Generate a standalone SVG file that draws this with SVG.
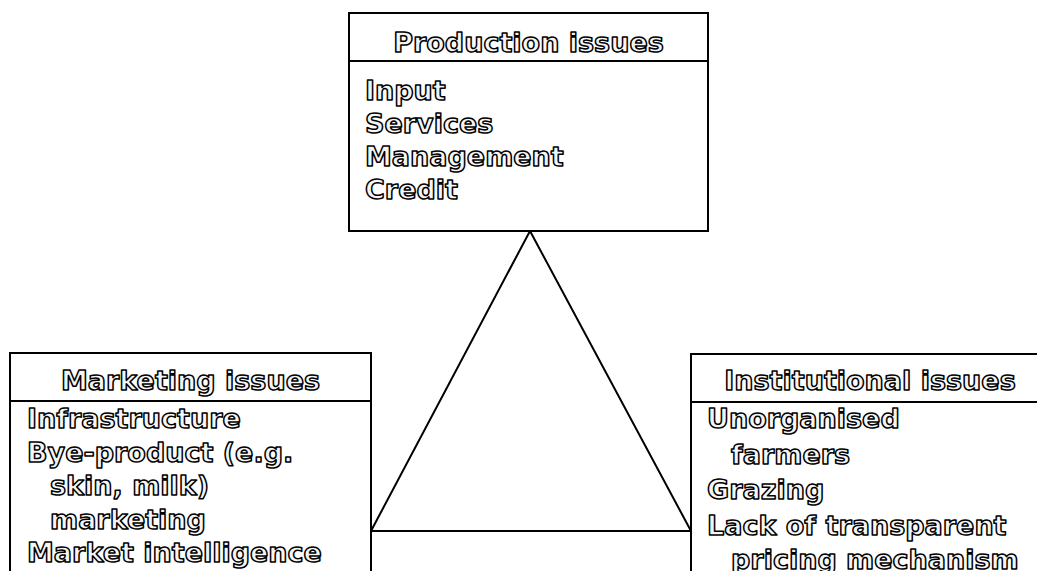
<svg xmlns="http://www.w3.org/2000/svg" width="1037" height="571" viewBox="0 0 1037 571">
<style>
  .box { fill: #ffffff; stroke: #000000; stroke-width: 2; }
  .div { stroke: #000000; stroke-width: 2; fill: none; }
  .edge { stroke: #000000; stroke-width: 2; fill: none; stroke-linecap: round; }
  .t { font-family: "DejaVu Sans", "Liberation Sans", sans-serif; font-weight: bold; font-size: 27px; fill: #f6f6f6; stroke: #000000; stroke-width: 1.5; stroke-linejoin: round; }
  .h { text-anchor: middle; }
</style>
<rect width="1037" height="571" fill="#ffffff"/>
<g id="connectors">
  <line class="edge" x1="530" y1="231" x2="371" y2="531"/>
  <line class="edge" x1="530" y1="231" x2="691" y2="531"/>
  <line class="edge" x1="371" y1="531" x2="691" y2="531"/>
</g>
<g id="production">
  <rect class="box" x="349" y="13" width="359" height="218"/>
  <line class="div" x1="349" y1="61" x2="708" y2="61"/>
  <text class="t h" x="528.5" y="52">Production issues</text>
  <text class="t" x="365" y="100">Input</text>
  <text class="t" x="365" y="133">Services</text>
  <text class="t" x="365" y="166">Management</text>
  <text class="t" x="365" y="199">Credit</text>
</g>
<g id="marketing">
  <rect class="box" x="10" y="353" width="361" height="240"/>
  <line class="div" x1="10" y1="401" x2="371" y2="401"/>
  <text class="t h" x="190.5" y="390">Marketing issues</text>
  <text class="t" x="27" y="428">Infrastructure</text>
  <text class="t" x="27" y="461.5">Bye-product (e.g.</text>
  <text class="t" x="50" y="495">skin, milk)</text>
  <text class="t" x="50" y="528.5">marketing</text>
  <text class="t" x="27" y="562">Market intelligence</text>
</g>
<g id="institutional">
  <rect class="box" x="691" y="354" width="357" height="240"/>
  <line class="div" x1="691" y1="402" x2="1048" y2="402"/>
  <text class="t h" x="870" y="390">Institutional issues</text>
  <text class="t" x="707" y="428">Unorganised</text>
  <text class="t" x="731" y="463.5">farmers</text>
  <text class="t" x="707" y="499">Grazing</text>
  <text class="t" x="707" y="534.5">Lack of transparent</text>
  <text class="t" x="731" y="569">pricing mechanism</text>
</g>
</svg>
